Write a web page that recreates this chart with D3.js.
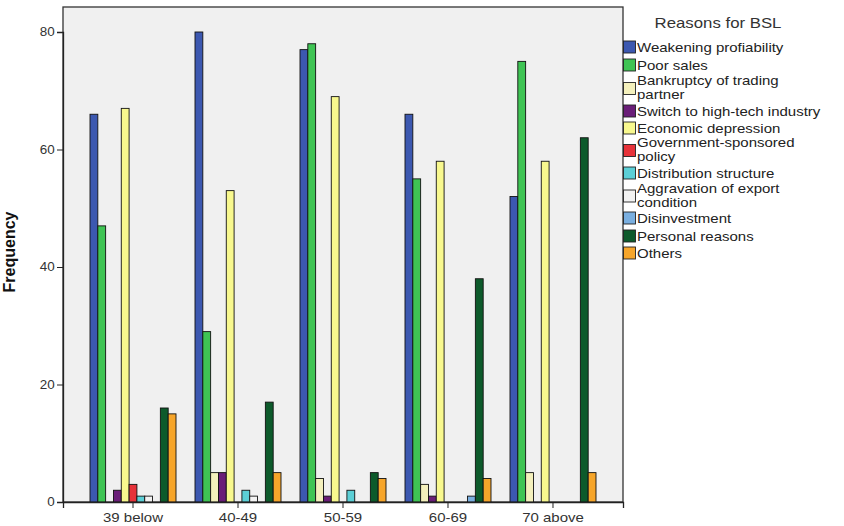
<!DOCTYPE html>
<meta charset="utf-8">
<style>
  body { margin: 0; background: #fff; }
  text { font-family: "Liberation Sans", Arial, sans-serif; }
</style>
<body>
<script src="https://d3js.org/d3.v7.min.js"></script>
<script>
var groups = ["39 below", "40-49", "50-59", "60-69", "70 above"];
var series = ["Weakening profiability", "Poor sales", "Bankruptcy of trading partner",
  "Switch to high-tech industry", "Economic depression", "Government-sponsored policy",
  "Distribution structure", "Aggravation of export condition", "Disinvestment",
  "Personal reasons", "Others"];
var legendLines = [["Weakening profiability"], ["Poor sales"], ["Bankruptcy of trading", "partner"],
  ["Switch to high-tech industry"], ["Economic depression"], ["Government-sponsored", "policy"],
  ["Distribution structure"], ["Aggravation of export", "condition"], ["Disinvestment"],
  ["Personal reasons"], ["Others"]];
var colors = ["#3c58b0", "#3fc454", "#f4f0bc", "#6a1e78", "#f8f88e", "#e63239",
  "#5ccfd6", "#f2f2f2", "#7aafe0", "#0d5a2b", "#f6a52a"];
// values[series][group]
var values = [
  [66, 80, 77, 66, 52],
  [47, 29, 78, 55, 75],
  [0, 5, 4, 3, 5],
  [2, 5, 1, 1, 0],
  [67, 53, 69, 58, 58],
  [3, 0, 0, 0, 0],
  [1, 2, 2, 0, 0],
  [1, 1, 0, 0, 0],
  [0, 0, 0, 1, 0],
  [16, 17, 5, 38, 62],
  [15, 5, 4, 4, 5]
];
var yTicks = [0, 20, 40, 60, 80];

var W = 844, H = 526;
var plot = {left: 63, top: 7, right: 623, bottom: 502};
var stretch = 1.2; // the source text looks a bit wide

var svg = d3.select("body").append("svg").attr("width", W).attr("height", H);

var x0 = d3.scaleBand().domain(groups).range([plot.left, plot.right]).paddingOuter(0.1667).paddingInner(0);
var groupW = 86;
var x1 = d3.scaleBand().domain(series).range([0, groupW]);
var y = d3.scaleLinear().domain([0, 80]).range([plot.bottom, plot.bottom - 80 * 5.875]);

svg.append("rect")
  .attr("x", plot.left).attr("y", plot.top)
  .attr("width", plot.right - plot.left).attr("height", plot.bottom - plot.top)
  .attr("fill", "#f0f0f0").attr("stroke", "#333").attr("stroke-width", 1.3);

var data = [];
series.forEach(function(s, i) {
  groups.forEach(function(g, j) {
    if (values[i][j] > 0) data.push({s: s, g: g, v: values[i][j], c: colors[i]});
  });
});

svg.append("g").selectAll("rect").data(data).enter().append("rect")
  .attr("x", function(d) { return x0(d.g) + (x0.bandwidth() - groupW) / 2 + x1(d.s); })
  .attr("y", function(d) { return y(d.v); })
  .attr("width", x1.bandwidth())
  .attr("height", function(d) { return plot.bottom - y(d.v); })
  .attr("fill", function(d) { return d.c; })
  .attr("stroke", "#111").attr("stroke-width", 0.9);

var yAxis = svg.append("g")
  .attr("transform", "translate(" + plot.left + ",0)")
  .call(d3.axisLeft(y).tickValues(yTicks).tickSize(6).tickPadding(3));
yAxis.select(".domain").attr("stroke", "#222").attr("stroke-width", 1.3);
yAxis.selectAll("line").attr("stroke", "#222");
yAxis.selectAll("text").attr("font-size", 12).attr("fill", "#333")
  .attr("x", -7.5).attr("transform", "scale(1.12,1)");

var xAxis = svg.append("g")
  .attr("transform", "translate(0," + plot.bottom + ")")
  .call(d3.axisBottom(x0).tickSize(6).tickPadding(5));
xAxis.select(".domain").attr("stroke", "#222").attr("stroke-width", 1.3);
xAxis.selectAll("line").attr("stroke", "#222");
xAxis.selectAll("text").attr("font-size", 12.5).attr("fill", "#333")
  .attr("transform", "scale(" + stretch + ",1)");

svg.append("text")
  .attr("transform", "translate(15,252) rotate(-90)")
  .attr("text-anchor", "middle")
  .attr("font-size", 16).attr("font-weight", "bold").attr("fill", "#111")
  .text("Frequency");

// legend
svg.append("text").attr("text-anchor", "middle")
  .attr("transform", "translate(718,28) scale(" + stretch + ",1)")
  .attr("font-size", 14).attr("fill", "#333").text("Reasons for BSL");

var legendY = [47, 65, 88.5, 111, 128, 150.5, 173, 196, 218, 236, 253];
var leg = svg.append("g").selectAll("g").data(series).enter().append("g")
  .attr("transform", function(d, i) { return "translate(623," + legendY[i] + ")"; });
leg.append("rect").attr("x", 0.5).attr("y", -6).attr("width", 12).attr("height", 12)
  .attr("fill", function(d, i) { return colors[i]; })
  .attr("stroke", "#222").attr("stroke-width", 0.9);
leg.each(function(d, i) {
  var lines = legendLines[i];
  var t = d3.select(this).append("text")
    .attr("transform", "translate(14,0) scale(1.2,1)")
    .attr("font-size", 12.5).attr("fill", "#222");
  lines.forEach(function(l, k) {
    t.append("tspan").attr("x", 0)
      .attr("y", (lines.length === 1 ? 4.5 : -3.5 + k * 14))
      .text(l);
  });
});
</script>
</body>
